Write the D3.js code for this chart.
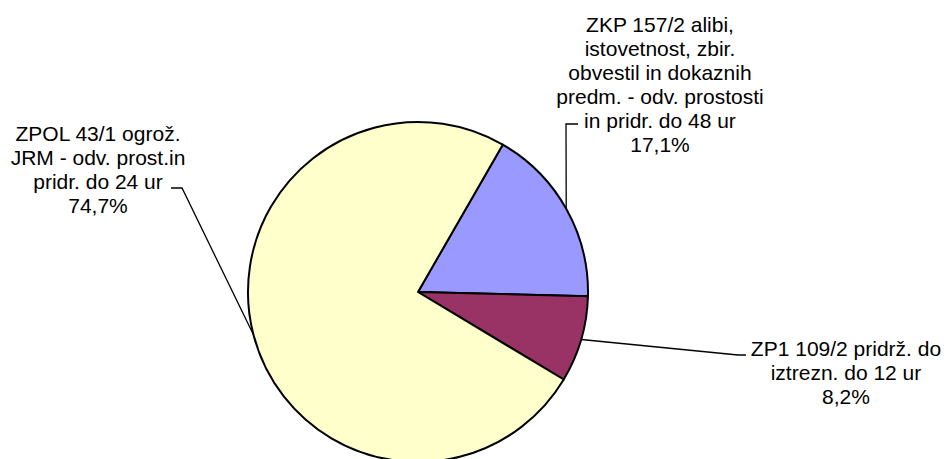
<!DOCTYPE html>
<html>
<head>
<meta charset="utf-8">
<script src="https://d3js.org/d3.v7.min.js"></script>
<style>
  body { margin: 0; background: #fff; }
  text { font-family: Arial, "Liberation Sans", sans-serif; font-size: 21px; fill: #000; }
</style>
</head>
<body>
<script>
// slice data (clockwise from the blue slice)
var labels = [
  ["ZKP 157/2 alibi,", "istovetnost, zbir.", "obvestil in dokaznih", "predm. - odv. prostosti", "in pridr. do 48 ur"],
  ["ZP1 109/2 pridrž. do", "iztrezn. do 12 ur"],
  ["ZPOL 43/1 ogrož.", "JRM - odv. prost.in", "pridr. do 24 ur"]
];
var values = [17.1, 8.2, 74.7];
var colors = ["#9999FF", "#993366", "#FFFFCC"];

var width = 947, height = 459;
var cx = 418, cy = 292, radius = 170;
var lineH = 24;

// label placement: text centre x, first baseline, elbow point of leader
var labelPos = [
  {x: 660, y: 31.7, elbow: [566, 124], end: [578, 124]},
  {x: 846, y: 355.7, elbow: [738, 355], end: [746, 355]},
  {x: 98, y: 140.7, elbow: [182, 188], end: [171, 188]}
];

var svg = d3.select("body").append("svg")
    .attr("width", width)
    .attr("height", height);

var g = svg.append("g")
    .attr("transform", "translate(" + cx + "," + cy + ")");

var start = 29.9 * Math.PI / 180;
var pie = d3.pie().sort(null).value(function(d) { return d; })
    .startAngle(start).endAngle(start + 2 * Math.PI);
var arcs = pie(values);

var arc = d3.arc().innerRadius(0).outerRadius(radius);

g.selectAll("path.slice")
    .data(arcs)
  .enter().append("path")
    .attr("class", "slice")
    .attr("d", arc)
    .attr("fill", function(d, i) { return colors[i]; })
    .attr("stroke", "#000")
    .attr("stroke-width", 2)
    .attr("stroke-linejoin", "round");

// leader lines
arcs.forEach(function(d, i) {
  var a = (d.startAngle + d.endAngle) / 2;
  var px = cx + radius * Math.sin(a), py = cy - radius * Math.cos(a);
  var p = labelPos[i];
  svg.append("polyline")
    .attr("points", [[px, py], p.elbow, p.end].map(function(q) { return q.join(","); }).join(" "))
    .attr("fill", "none")
    .attr("stroke", "#000")
    .attr("stroke-width", 1.3);
});

// labels
labels.forEach(function(lines, i) {
  var p = labelPos[i];
  var t = svg.append("text").attr("text-anchor", "middle");
  lines.concat([String(values[i]).replace(".", ",") + "%"]).forEach(function(s, k) {
    t.append("tspan").attr("x", p.x).attr("y", p.y + k * lineH).text(s);
  });
});
</script>
</body>
</html>
